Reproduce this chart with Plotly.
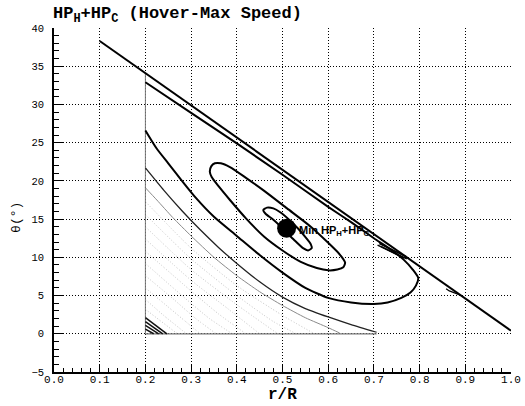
import plotly.graph_objects as go

# Operating-limit line across the rotor span
limit_r = [0.1, 1.0]
limit_theta = [38.3, 0.4]

# Edges of the computed region
edge_left_r = [0.2, 0.2]
edge_left_theta = [0.0, 34.1]
edge_bottom_r = [0.2, 0.706]
edge_bottom_theta = [0.0, 0.0]

# Contour lines of HP_H+HP_C, innermost first
c1_r = [0.458, 0.466, 0.480, 0.495, 0.515, 0.535, 0.552, 0.562, 0.564, 0.556, 0.545, 0.525, 0.500, 0.478, 0.463, 0.458]
c1_theta = [16.2, 16.5, 16.4, 15.9, 14.9, 13.7, 12.5, 11.7, 11.2, 10.9, 11.2, 12.3, 13.8, 15.0, 15.7, 16.2]

c2_r = [0.341, 0.344, 0.352, 0.365, 0.385, 0.42, 0.46, 0.51, 0.56, 0.60, 0.625, 0.637, 0.633, 0.62, 0.60, 0.575,
        0.54, 0.50, 0.46, 0.42, 0.385, 0.36, 0.345, 0.341]
c2_theta = [21.2, 21.9, 22.3, 22.3, 21.8, 20.4, 18.7, 16.4, 14.1, 11.9, 10.4, 9.3, 8.7, 8.4, 8.3, 8.6,
            9.4, 10.9, 12.7, 15.1, 17.5, 19.3, 20.5, 21.2]

c3_r = [0.2, 0.225, 0.25, 0.28, 0.31, 0.35, 0.40, 0.45, 0.50, 0.55, 0.60, 0.65, 0.70, 0.73, 0.76, 0.78, 0.792,
        0.797, 0.785, 0.765, 0.74, 0.715, 0.70, 0.65, 0.60, 0.50, 0.40, 0.30, 0.2]
c3_theta = [26.6, 24.2, 22.3, 20.0, 17.8, 15.3, 12.8, 10.3, 8.0, 6.0, 4.7, 4.1, 3.9, 4.1, 4.7, 5.4, 6.3,
            7.3, 8.4, 9.7, 10.9, 11.9, 12.5, 14.6, 16.6, 20.8, 24.9, 28.9, 32.9]

c4_r = [0.2, 0.24, 0.28, 0.32, 0.36, 0.40, 0.45, 0.50, 0.55, 0.60, 0.65, 0.706]
c4_theta = [21.7, 18.8, 16.1, 13.6, 11.3, 9.2, 6.8, 4.8, 3.3, 2.2, 1.2, 0.2]

c5_r = [0.2, 0.225, 0.26, 0.30, 0.35, 0.40, 0.45, 0.50, 0.55, 0.60, 0.625]
c5_theta = [19.1, 17.5, 15.2, 12.8, 10.0, 7.6, 5.5, 3.7, 2.1, 0.8, 0.1]

# Closely packed high-power levels in the root / low-pitch corner
f1_r = [0.2, 0.3, 0.4, 0.5, 0.57]
f1_theta = [17.3, 11.2, 6.3, 2.4, 0.0]
f2_r = [0.2, 0.3, 0.4, 0.48, 0.53]
f2_theta = [15.6, 9.8, 5.0, 1.6, 0.0]
f3_r = [0.2, 0.3, 0.4, 0.49]
f3_theta = [14.0, 8.4, 3.8, 0.0]
f4_r = [0.2, 0.3, 0.38, 0.45]
f4_theta = [12.4, 7.0, 3.3, 0.0]
f5_r = [0.2, 0.3, 0.36, 0.42]
f5_theta = [10.8, 5.6, 2.6, 0.0]
f6_r = [0.2, 0.28, 0.34, 0.39]
f6_theta = [9.2, 5.0, 2.0, 0.0]
f7_r = [0.2, 0.26, 0.31, 0.355]
f7_theta = [7.6, 4.6, 2.0, 0.0]
f8_r = [0.2, 0.25, 0.29, 0.32]
f8_theta = [6.0, 3.5, 1.5, 0.0]
f9_r = [0.2, 0.24, 0.29]
f9_theta = [4.5, 2.4, 0.0]
f10_r = [0.2, 0.27]
f10_theta = [3.2, 0.0]

# Short steep levels at the root corner
s1_r, s1_theta = [0.2, 0.247], [2.1, 0.0]
s2_r, s2_theta = [0.2, 0.238], [1.6, 0.0]
s3_r, s3_theta = [0.2, 0.229], [1.1, 0.0]
s4_r, s4_theta = [0.2, 0.218], [0.6, 0.0]

# Crowded levels next to the limit line
h1_r, h1_theta = [0.708, 0.772], [11.6, 9.8]
h2_r, h2_theta = [0.712, 0.770], [11.8, 10.1]
h3_r, h3_theta = [0.716, 0.766], [11.4, 9.9]
hook_r, hook_theta = [0.858, 0.865, 0.888], [5.9, 5.6, 5.1]

# Minimum of HP_H+HP_C
min_r = [0.509]
min_theta = [13.8]

fig = go.Figure()


def add_line(r, th, color="black", width=2.0, dash="solid", smooth=True):
    fig.add_trace(go.Scatter(
        x=r, y=th, mode="lines",
        line=dict(color=color, width=width, dash=dash,
                  shape="spline" if smooth else "linear", smoothing=0.6),
        hoverinfo="skip", showlegend=False,
    ))


faint = [(f1_r, f1_theta), (f2_r, f2_theta), (f3_r, f3_theta), (f4_r, f4_theta), (f5_r, f5_theta),
         (f6_r, f6_theta), (f7_r, f7_theta), (f8_r, f8_theta), (f9_r, f9_theta), (f10_r, f10_theta)]
for r, th in faint:
    add_line(r, th, color="#c4c4c4", width=1, dash="1px,2px")

add_line(edge_left_r, edge_left_theta, color="#777777", width=1, smooth=False)
add_line(edge_bottom_r, edge_bottom_theta, color="#777777", width=1.2, smooth=False)

add_line(c5_r, c5_theta, color="#8a8a8a", width=1)
add_line(c4_r, c4_theta, color="#222222", width=1.3)
add_line(c3_r, c3_theta, width=2)
add_line(c2_r, c2_theta, width=2)
add_line(c1_r, c1_theta, width=2)

for r, th in [(s1_r, s1_theta), (s2_r, s2_theta), (s3_r, s3_theta), (s4_r, s4_theta)]:
    add_line(r, th, color="#111111", width=1.5, smooth=False)
for r, th in [(h1_r, h1_theta), (h2_r, h2_theta), (h3_r, h3_theta)]:
    add_line(r, th, width=1.6, smooth=False)
add_line(hook_r, hook_theta, width=1.3, smooth=False)

add_line(limit_r, limit_theta, width=2, smooth=False)

fig.add_trace(go.Scatter(
    x=min_r, y=min_theta, mode="markers",
    marker=dict(color="black", size=19, line=dict(width=0)),
    hoverinfo="skip", showlegend=False,
))

mono = "Liberation Mono, Courier New, monospace"

fig.add_annotation(
    x=min_r[0] + 0.022, y=min_theta[0] - 0.3, xref="x", yref="y",
    text="<b>Min HP<sub>H</sub>+HP<sub>C</sub></b>", showarrow=False,
    xanchor="left", yanchor="middle",
    font=dict(family="Liberation Sans, Arial, sans-serif", size=11, color="black"),
)

# Title
fig.add_annotation(
    x=0, y=1, xref="paper", yref="paper", xshift=-3, yshift=0,
    text="<b>HP<sub>H</sub>+HP<sub>C</sub> (Hover-Max Speed)</b>", showarrow=False,
    xanchor="left", yanchor="bottom",
    font=dict(family=mono, size=17, color="black"),
)

# Axis titles
fig.add_annotation(
    x=0.5, y=0, xref="paper", yref="paper", yshift=-12,
    text="<b>r/R</b>", showarrow=False, xanchor="center", yanchor="top",
    font=dict(family=mono, size=16, color="black"),
)
fig.add_annotation(
    x=0, y=0.448, xref="paper", yref="paper", xshift=-37,
    text="θ(°)", showarrow=False, xanchor="center", yanchor="middle", textangle=-90,
    font=dict(family=mono, size=13, color="black"),
)

axis_common = dict(
    showline=True, linecolor="black", linewidth=1.5, mirror=False,
    ticks="inside", tickcolor="black", tickwidth=1.3,
    showgrid=True, gridcolor="black", gridwidth=1, griddash="1px,2px",
    zeroline=False, automargin=False,
)

fig.update_xaxes(
    range=[0, 1], dtick=0.1, tick0=0, tickformat=".1f", ticklen=8, ticklabelstandoff=-4,
    minor=dict(dtick=0.02, ticks="inside", ticklen=4, tickcolor="black", showgrid=False),
    tickfont=dict(family=mono, size=11, color="black"),
    **axis_common,
)
fig.update_yaxes(
    range=[-5, 40], dtick=5, tick0=-5, ticklen=9, ticklabelstandoff=6,
    minor=dict(dtick=1, ticks="inside", ticklen=5, tickcolor="black", showgrid=False),
    tickfont=dict(family=mono, size=10.5, color="black"),
    **axis_common,
)

fig.update_layout(
    width=525, height=406,
    margin=dict(l=54, r=14, t=28, b=34),
    paper_bgcolor="white", plot_bgcolor="white",
    showlegend=False,
)

fig.write_html("out.html")
